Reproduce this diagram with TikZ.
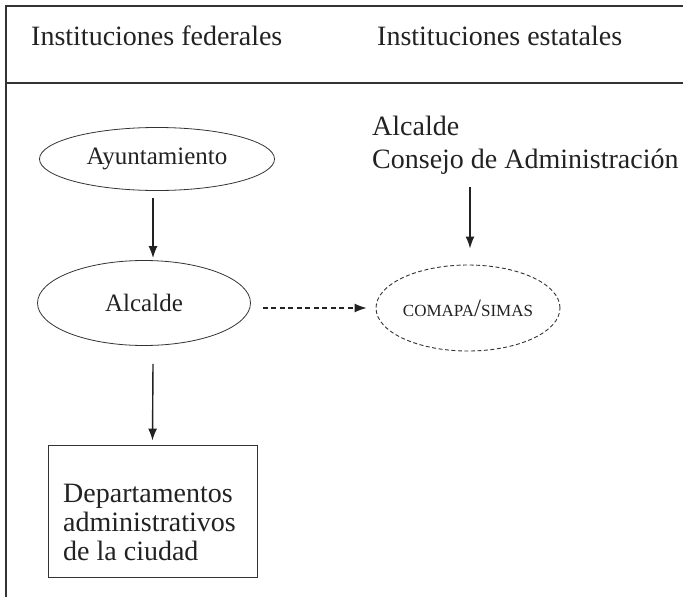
\documentclass[tikz,border=0pt]{standalone}
\usepackage{fontspec}
\setmainfont{Liberation Serif}
\usetikzlibrary{shapes.geometric,arrows.meta,calc}
\definecolor{ink}{HTML}{222222}
\definecolor{rule}{HTML}{333333}
\begin{document}
\begin{tikzpicture}[x=1pt,y=-1pt,
  frame/.style={draw=rule, line width=1.4pt},
  hdr/.style={inner sep=0pt, text=ink, font=\fontsize{28}{30}\selectfont},
  oval/.style={ellipse, draw=rule, line width=0.8pt, inner sep=0pt, text=ink,
    font=\fontsize{25}{27}\selectfont},
  dashoval/.style={oval, line width=0.9pt, dash pattern=on 4pt off 2.5pt},
  arr/.style={draw=ink, line width=1.4pt, -{Latex[length=12pt,width=9pt]}},
  darr/.style={arr, line width=1.2pt, dash pattern=on 5pt off 3.5pt},
  boxnode/.style={draw=rule, line width=0.9pt, inner sep=0pt},
  body/.style={inner sep=0pt, text=ink, align=left, font=\fontsize{28}{29}\selectfont}]
\useasboundingbox (0,0) rectangle (683,597);
\draw[frame] (6,597) -- (6,6) -- (683,6);
\draw[frame] (6,83) -- (683,83);
\node[hdr, anchor=base west] (hf) at (31,45) {Instituciones federales};
\node[hdr, anchor=base west] (he) at (377,45) {Instituciones estatales};
\node[oval, minimum width=235pt, minimum height=63pt] (ay) at (157,159) {Ayuntamiento};
\node[oval, minimum width=213pt, minimum height=85pt] (al) at (144,303) {Alcalde};
\node[dashoval, minimum width=173pt, minimum height=86pt, font=\fontsize{17}{19}\selectfont] (cm) at (468,308)
  {COMAPA{\fontsize{25}{25}\selectfont/}SIMAS};
\node[body, anchor=north west, font=\fontsize{28}{33}\selectfont] (rt) at (372,116) {Alcalde\\Consejo de Administración};
\node[boxnode, minimum width=209pt, minimum height=132pt] (dep) at (152.5,511) {};
\node[body, anchor=north west] (dept) at (63,484) {Departamentos\\administrativos\\de la ciudad};
\draw[arr] ([xshift=-4pt,yshift=-7pt]ay.south) -- ([xshift=9pt,yshift=2pt]al.north);
\draw[arr] ([xshift=9pt,yshift=-18pt]al.south) -- ([yshift=4pt]dep.north);
\draw[darr] ([xshift=12pt]al.east |- cm.west) -- ([xshift=-9pt]cm.west);
\draw[arr] ([xshift=98pt,yshift=-12pt]rt.south west) -- ([xshift=2pt,yshift=16pt]cm.north);
\end{tikzpicture}
\end{document}
